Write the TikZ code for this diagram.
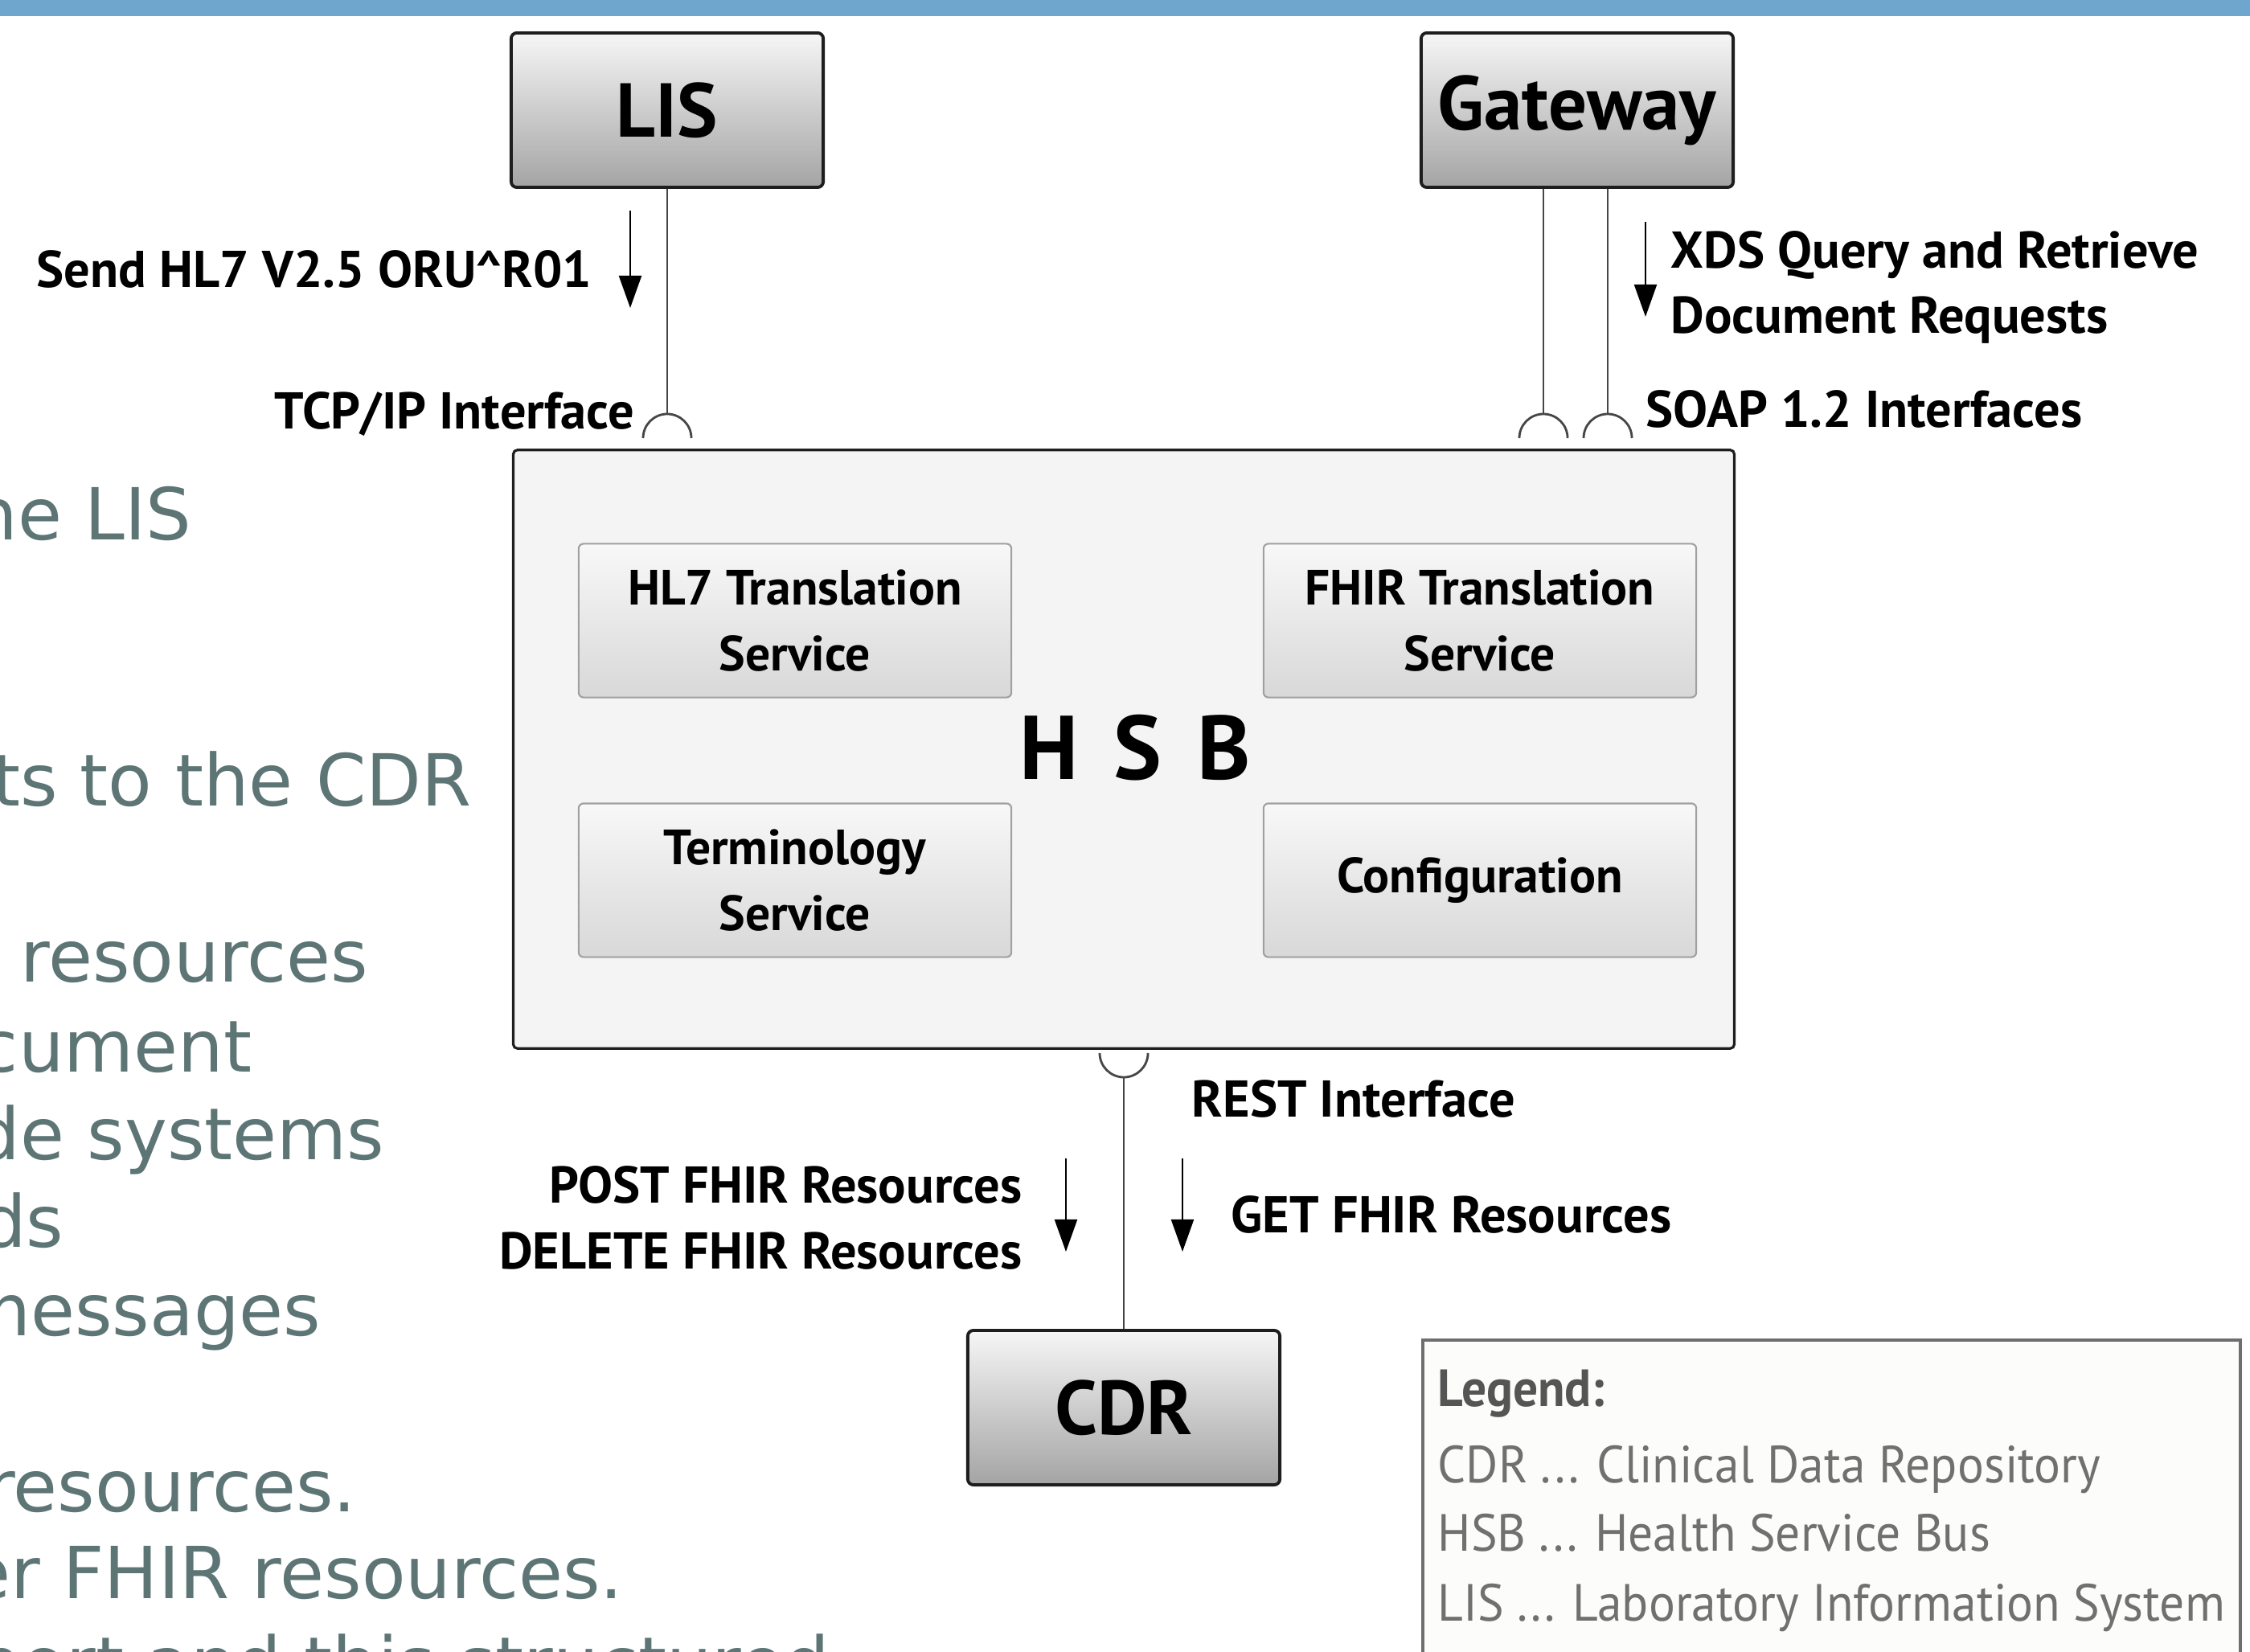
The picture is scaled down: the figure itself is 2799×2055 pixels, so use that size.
\documentclass[tikz,border=0pt]{standalone}
\usepackage{fontspec}
\setmainfont{PT Sans}
\newfontfamily\bgfont{DejaVu Sans}
\newfontfamily\legfont[FakeStretch=0.945]{PT Sans}
\usetikzlibrary{arrows.meta,calc}
\definecolor{topbar}{RGB}{111,166,205}
\definecolor{bgtext}{RGB}{94,117,118}
\definecolor{boxline}{RGB}{30,30,30}
\definecolor{bigtop}{RGB}{246,246,246}
\definecolor{bigbot}{RGB}{164,164,164}
\definecolor{hsbfill}{RGB}{244,244,244}
\definecolor{intop}{RGB}{248,248,248}
\definecolor{inbot}{RGB}{216,216,216}
\definecolor{inline}{RGB}{160,160,160}
\definecolor{connline}{RGB}{70,70,70}
\definecolor{legline}{RGB}{110,110,110}
\definecolor{legfill}{RGB}{252,252,250}
\definecolor{legtitle}{RGB}{85,85,85}
\definecolor{legtext}{RGB}{112,112,112}
\begin{document}
\begin{tikzpicture}[x=0.01cm,y=-0.01cm,
  bigbox/.style={draw=boxline, line width=1.1pt, rounded corners=0.7mm,
    top color=bigtop, bottom color=bigbot, minimum width=38.8mm,
    minimum height=19.2mm, inner sep=0pt, font=\fontsize{27}{30}\selectfont\bfseries},
  innerbox/.style={draw=inline, line width=0.6pt, rounded corners=0.6mm,
    top color=intop, bottom color=inbot, minimum width=53.8mm,
    minimum height=19.1mm, inner sep=0pt, align=center,
    font=\fontsize{17.5}{23.3}\selectfont\bfseries},
  hsbbox/.style={draw=boxline, line width=0.9pt, rounded corners=0.5mm,
    fill=hsbfill, minimum width=151.8mm, minimum height=74.4mm, inner sep=0pt},
  conn/.style={draw=connline, line width=0.8pt},
  arr/.style={-{Triangle[length=4mm,width=2.8mm]}, line width=0.6pt, black},
  lbl/.style={inner sep=0pt, font=\fontsize{18.3}{22}\selectfont\bfseries},
  bgt/.style={inner sep=0pt, anchor=base east, text=bgtext, font=\bgfont\fontsize{25.4}{30}\selectfont},
  legt/.style={inner sep=0pt, anchor=base west, text=legtext, font=\legfont\fontsize{18.5}{22}\selectfont}
]
\useasboundingbox (0,0) rectangle (2799,2055);
\clip (0,0) rectangle (2799,2055);
\fill[white] (0,0) rectangle (2799,2055);
\fill[topbar] (0,0) rectangle (2799,20);

% background slide text
\node[bgt] (b1) at (239,672) {the LIS};
\node[bgt] (b2) at (587,1002) {ts to the CDR};
\node[bgt] (b3) at (459,1221) {a resources};
\node[bgt] (b4) at (314,1333) {cument};
\node[bgt] (b5) at (479,1442) {de systems};
\node[bgt] (b6) at (80,1551) {ds};
\node[bgt] (b7) at (400,1661) {messages};
\node[bgt] (b8) at (444,1880) {resources.};
\node[bgt] (b9) at (776,1988) {er FHIR resources.};
\node[bgt] (b10) at (1033,2100) {port and this structured};

% main boxes
\node[bigbox] (lis) at (830,137) {LIS};
\node[bigbox] (gw) at (1962,137) {Gateway};
\node[hsbbox] (hsb) at (1398,932) {};
\node[inner sep=0pt, font=\fontsize{32}{34}\selectfont\bfseries] (hsbl) at (1412,930) {H\hspace{4.4mm}S\hspace{4.4mm}B};
\node[innerbox] (hl7) at (989,772) {HL7 Translation\\Service};
\node[innerbox] (fhir) at (1841,772) {FHIR Translation\\Service};
\node[innerbox] (term) at (989,1095) {Terminology\\Service};
\node[innerbox] (conf) at (1841,1095) {Configuration};
\node[bigbox] (cdr) at (1398,1751) {CDR};

% sockets
\coordinate (s1) at (830,545);
\coordinate (s2) at (1920,545);
\coordinate (s3) at (2000,545);
\coordinate (s4) at (1398,1310);
\draw[conn] (lis.south) -- ($(s1)+(0,-30)$);
\draw[conn] ($(s1)+(-30,0)$) arc[start angle=180,end angle=0,radius=3mm];
\draw[conn] ($(gw.south)+(-42,0)$) -- ($(s2)+(0,-30)$);
\draw[conn] ($(s2)+(-30,0)$) arc[start angle=180,end angle=0,radius=3mm];
\draw[conn] ($(gw.south)+(38,0)$) -- ($(s3)+(0,-30)$);
\draw[conn] ($(s3)+(-30,0)$) arc[start angle=180,end angle=0,radius=3mm];
\draw[conn] ($(s4)+(-30,0)$) arc[start angle=180,end angle=360,radius=3mm];
\draw[conn] ($(s4)+(0,30)$) -- (cdr.north);

% direction arrows
\coordinate (a1s) at (784,262); \coordinate (a1e) at (784,383);
\coordinate (a2s) at (2047,276); \coordinate (a2e) at (2047,394);
\coordinate (a3s) at (1326,1441); \coordinate (a3e) at (1326,1557);
\coordinate (a4s) at (1471,1441); \coordinate (a4e) at (1471,1557);
\draw[arr] (a1s) -- (a1e);
\draw[arr] (a2s) -- (a2e);
\draw[arr] (a3s) -- (a3e);
\draw[arr] (a4s) -- (a4e);

% labels
\node[lbl, anchor=base east] (l1) at (737,358) {Send HL7 V2.5 ORU\textasciicircum R01};
\node[lbl, anchor=base east] (l2) at (790,534) {TCP/IP Interface};
\node[lbl, anchor=base west] (l3) at (2078,334) {XDS Query and Retrieve};
\node[lbl, anchor=base west] (l4) at (2078,415) {Document Requests};
\node[lbl, anchor=base west] (l5) at (2047,532) {SOAP 1.2 Interfaces};
\node[lbl, anchor=base west] (l6) at (1482,1389) {REST Interface};
\node[lbl, anchor=base east] (l7) at (1272,1496) {POST FHIR Resources};
\node[lbl, anchor=base east] (l8) at (1272,1578) {DELETE FHIR Resources};
\node[lbl, anchor=base west] (l9) at (1531,1533) {GET FHIR Resources};

% legend
\draw[draw=legline, line width=0.9pt, fill=legfill] (1770,1667) rectangle (2787,2150);
\node[legt, text=legtitle, font=\legfont\fontsize{18.5}{22}\selectfont\bfseries] (lg0) at (1788,1749) {Legend:};
\node[legt] (lg1) at (1788,1844) {CDR ... Clinical Data Repository};
\node[legt] (lg2) at (1788,1929) {HSB ... Health Service Bus};
\node[legt] (lg3) at (1788,2016) {LIS ... Laboratory Information System};
\end{tikzpicture}
\end{document}
